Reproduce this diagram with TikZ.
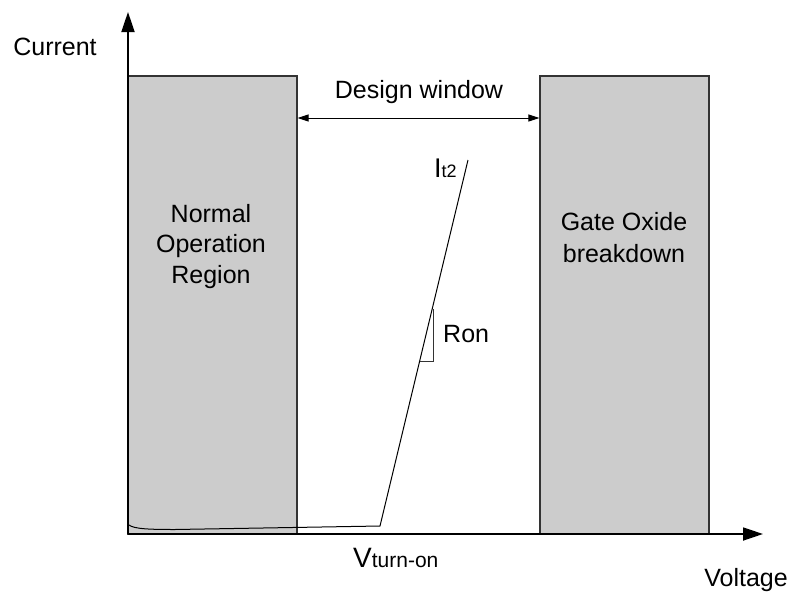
\documentclass[tikz,border=0pt]{standalone}
\usepackage{fontspec}
\setmainfont{Liberation Sans}
\usetikzlibrary{arrows.meta}
\definecolor{regionfill}{HTML}{CCCCCC}
\definecolor{regionline}{HTML}{333333}
\begin{document}
\begin{tikzpicture}[x=1pt,y=-1pt,
  region/.style={draw=regionline,line width=1.3pt,fill=regionfill},
  axis/.style={line width=1.8pt,-{Triangle[length=20pt,width=13pt]}},
  label/.style={inner sep=0pt,font=\fontsize{25}{30}\selectfont},
  dimline/.style={line width=1pt,{Triangle[length=11pt,width=7pt]}-{Triangle[length=11pt,width=7pt]}},
  curve/.style={line width=1pt,line join=round}]
\useasboundingbox (0,0) rectangle (793,592);

% forbidden regions
\node[region,minimum width=169pt,minimum height=458pt,inner sep=0pt] (normal) at (212.5,305) {};
\node[region,minimum width=169pt,minimum height=458pt,inner sep=0pt] (oxide) at (624.5,305) {};

% axes
\coordinate (origin) at (128,534);
\coordinate (ytip) at (128,12);
\coordinate (xtip) at (763,534);
\draw[axis] (origin) -- (ytip);
\draw[axis] (origin) -- (xtip);

% axis labels
\node[label,anchor=base] (ilabel) at (55,55) {Current};
\node[label,anchor=base] (vlabel) at (746,586) {Voltage};

% design window
\draw[dimline] (normal.east |- 0,118) -- (oxide.west |- 0,118);
\node[label,anchor=base] (window) at (419,98) {Design window};

% region texts (base anchor sits on the last line)
\node[label,align=center,anchor=base] (ntext) at (211,283) {Normal\\[0.5pt]Operation\\[0.5pt]Region};
\node[label,align=center,anchor=base] (otext) at (624,262) {Gate Oxide\\[2pt]breakdown};

% I-V characteristic
\coordinate (p0) at (129,525);
\coordinate (p1) at (175,529.5);
\coordinate (turnon) at (380,526);
\coordinate (it2) at (468,160);
\draw[curve] (p0) .. controls (134,529) and (150,529.5) .. (p1) -- (turnon) -- (it2);

% on-resistance slope marker
\coordinate (r1) at (433,309);
\coordinate (r2) at (433,361);
\coordinate (r3) at (420,361);
\draw[line width=1pt,draw=regionline] (r1) -- (r2) -- (r3);
\node[label,anchor=base west] (ron) at (443,342) {Ron};

% point labels
\node[inner sep=0pt,anchor=base west] (itwo) at (434,177)
  {\fontsize{27}{30}\selectfont I\fontsize{18}{21}\selectfont t2};
\node[inner sep=0pt,anchor=base west] (vton) at (353,567)
  {\fontsize{28}{32}\selectfont V\fontsize{21}{25}\selectfont turn-on};
\end{tikzpicture}
\end{document}
